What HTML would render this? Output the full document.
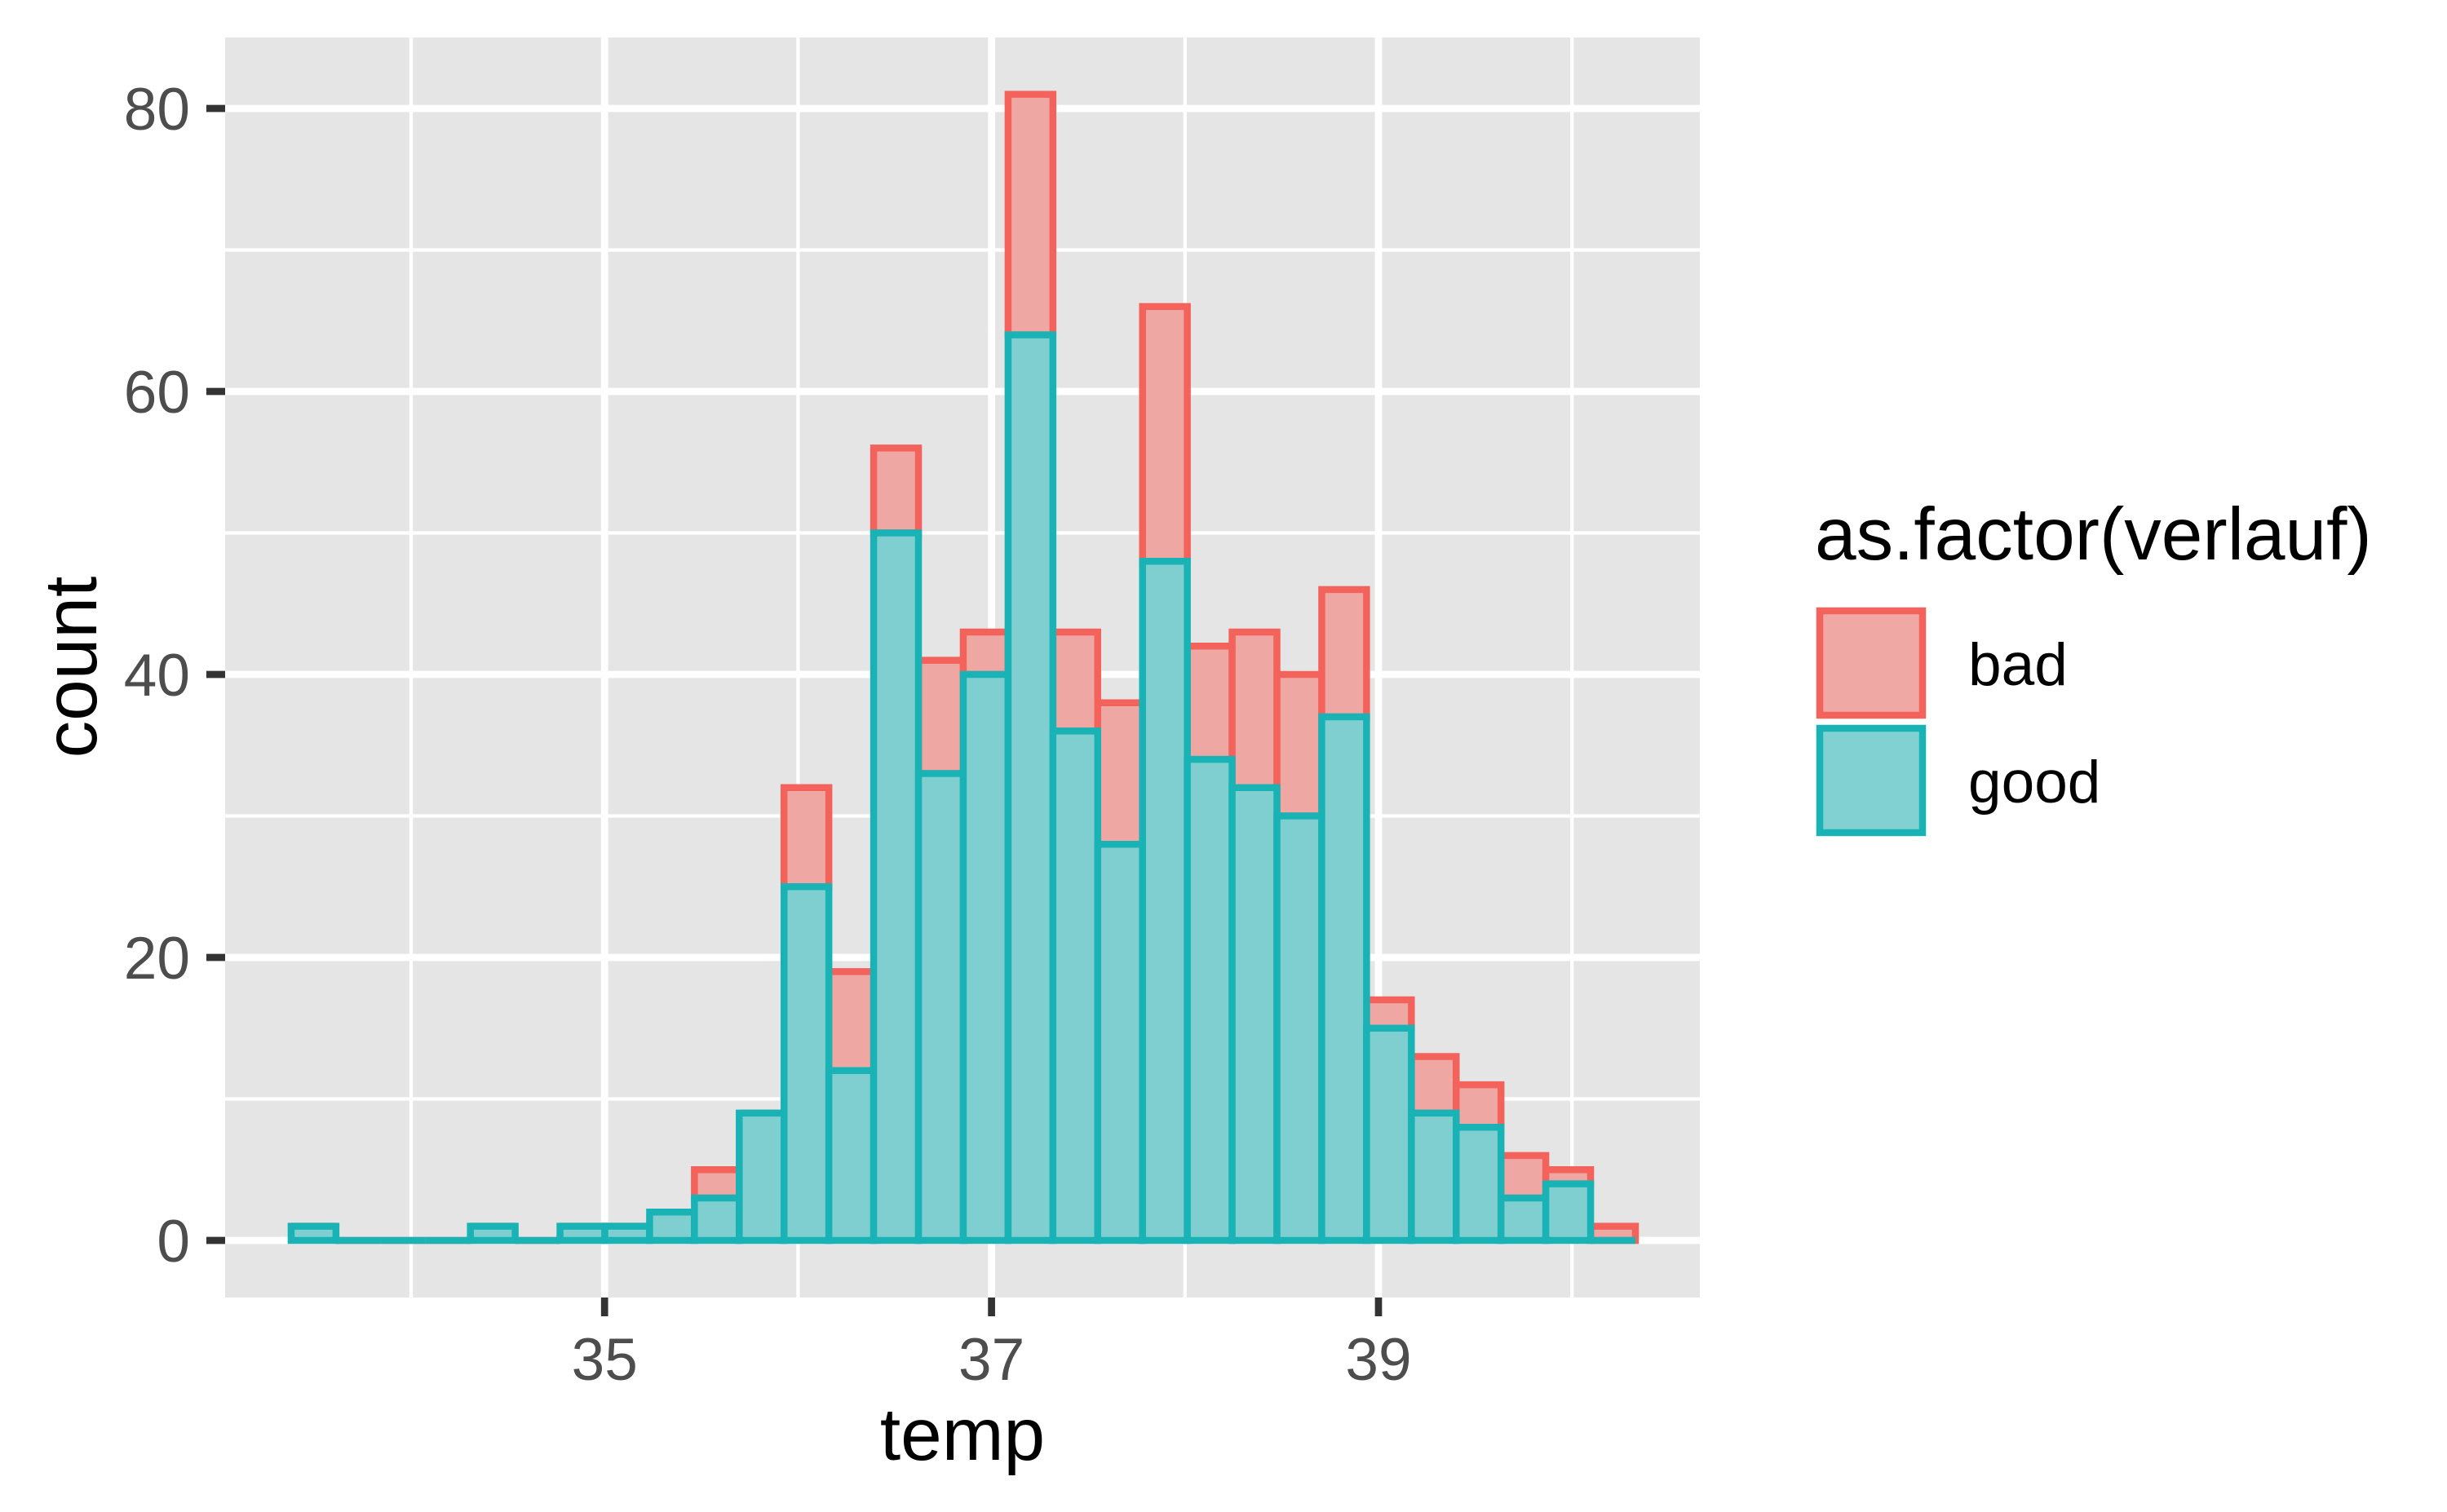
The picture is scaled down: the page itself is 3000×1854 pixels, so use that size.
<!DOCTYPE html>
<html><head><meta charset="utf-8"><style>
html,body{margin:0;padding:0;background:#fff;}
svg{display:block;font-family:"Liberation Sans",Arial,sans-serif;}
</style></head><body>
<svg id="chart" width="3000" height="1854" viewBox="0 0 3000 1854" xmlns="http://www.w3.org/2000/svg">
<rect x="276" y="46" width="1808" height="1545" fill="#E5E5E5"/>
<g id="grid"></g>
<g id="bars-bad"></g>
<g id="bars-good"></g>
<g id="axes"></g>
<text x="1180" y="1790" font-size="91" text-anchor="middle" fill="#000">temp</text>
<text x="0" y="0" font-size="91" text-anchor="middle" fill="#000" transform="translate(118,818) rotate(-90)">count</text>
<g>
<text x="2225" y="686" font-size="91" fill="#000">as.factor(verlauf)</text>
<rect x="2231" y="749" width="126" height="128" fill="#F0A8A5" stroke="#F4625C" stroke-width="8.5"/>
<text x="2413" y="840" font-size="73" fill="#000">bad</text>
<rect x="2231" y="893" width="126" height="128" fill="#82D1D2" stroke="#19B3B6" stroke-width="8.5"/>
<text x="2413" y="984" font-size="73" fill="#000">good</text>
</g>
</svg>
<script>
const totalCounts = [1,0,0,0,1,0,1,1,2,5,9,32,19,56,41,43,81,43,38,66,42,43,40,46,17,13,11,6,5,1];
const goodCounts  = [1,0,0,0,1,0,1,1,2,3,9,25,12,50,33,40,64,36,28,48,34,32,30,37,15,9,8,3,4,0];
const binStart = 33.38;
const binWidth = 0.2316;
const xMajorTicks = [35,37,39];
const xMinorTicks = [34,36,38,40];
const yMajorTicks = [0,20,40,60,80];
const yMinorTicks = [10,30,50,70];

const NS = "http://www.w3.org/2000/svg";
const PL = 276, PR = 2084, PT = 46, PB = 1591;
function xs(v){ return 504 + (v - 34) * 237.2; }
function ys(v){ return 1521 - v * 17.35; }
function mk(tag, attrs, parent){
  const e = document.createElementNS(NS, tag);
  for (const k in attrs) e.setAttribute(k, attrs[k]);
  parent.appendChild(e); return e;
}
function boxPath(x0, x1, yTop, yBot){
  return 'M' + x0 + ',' + yBot + 'L' + x0 + ',' + yTop + 'L' + x1 + ',' + yTop + 'L' + x1 + ',' + yBot + 'Z';
}
const grid = document.getElementById('grid');
yMinorTicks.forEach(v => {
  const l = mk('line', {x1:PL, x2:PR, y1:ys(v), y2:ys(v), stroke:'#fff', 'stroke-width':4.3}, grid);
  
  
});
xMinorTicks.forEach(v => {
  const l = mk('line', {x1:xs(v), x2:xs(v), y1:PT, y2:PB, stroke:'#fff', 'stroke-width':4.3}, grid);
  
  
});
yMajorTicks.forEach(v => {
  const l = mk('line', {x1:PL, x2:PR, y1:ys(v), y2:ys(v), stroke:'#fff', 'stroke-width':8.7}, grid);
  
  
});
xMajorTicks.forEach(v => {
  const l = mk('line', {x1:xs(v), x2:xs(v), y1:PT, y2:PB, stroke:'#fff', 'stroke-width':8.7}, grid);
  
  
});
const gb = document.getElementById('bars-bad');
const gg = document.getElementById('bars-good');
totalCounts.forEach((t, i) => {
  const x0 = xs(binStart + i * binWidth), x1 = xs(binStart + (i + 1) * binWidth);
  const g = goodCounts[i];
  const r = mk('path', {d:boxPath(x0, x1, ys(t), ys(g)), fill:'#EFA7A4', stroke:'#F4625C', 'stroke-width':8.5, 'stroke-linejoin':'miter'}, gb);
  
  
});
goodCounts.forEach((g, i) => {
  const x0 = xs(binStart + i * binWidth), x1 = xs(binStart + (i + 1) * binWidth);
  const r = mk('path', {d:boxPath(x0, x1, ys(g), ys(0)), fill:'#7FCFD0', stroke:'#19B3B6', 'stroke-width':8.5, 'stroke-linejoin':'miter'}, gg);
  
  
});
const ax = document.getElementById('axes');
yMajorTicks.forEach(v => {
  const t = mk('line', {x1:253, x2:PL, y1:ys(v), y2:ys(v), stroke:'#333', 'stroke-width':8.7}, ax);
  
  
  const lb = mk('text', {x:233, y:ys(v) + 26, 'font-size':73, 'text-anchor':'end', fill:'#4D4D4D'}, ax);
  lb.textContent = String(v);
  
  
});
xMajorTicks.forEach(v => {
  const t = mk('line', {x1:xs(v), x2:xs(v), y1:PB, y2:PB + 23, stroke:'#333', 'stroke-width':8.7}, ax);
  
  
  const lb = mk('text', {x:xs(v), y:1692, 'font-size':73, 'text-anchor':'middle', fill:'#4D4D4D'}, ax);
  lb.textContent = String(v);
  
  
});
</script>
</body></html>
